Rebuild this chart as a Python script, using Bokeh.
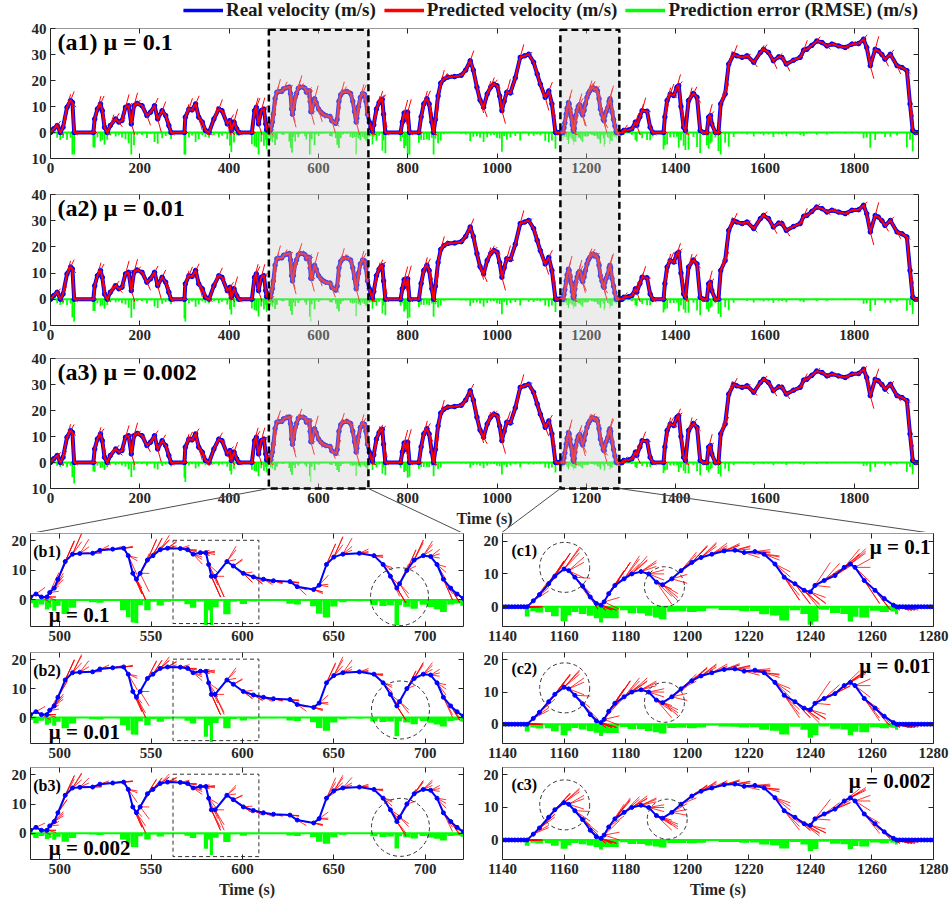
import numpy as np
from bokeh.plotting import figure
from bokeh.layouts import column, row
from bokeh.models import (Range1d, LinearAxis, FixedTicker, Legend, LegendItem,
                          Label, Span, CustomJSTickFormatter)
from bokeh.embed import file_html
from bokeh.resources import INLINE

# ---------------- data (time s, real velocity m/s) ----------------
t_start = [0, 7, 15, 22, 28, 37, 45, 49, 53, 96, 99, 105, 112, 116, 121, 127, 134, 146, 153, 160,
           168, 175, 181, 187, 194, 205, 216, 224, 233, 240, 250, 258, 265, 270, 300, 302, 310, 317,
           325, 332, 340, 347, 355, 366, 377, 384, 396, 402, 405, 411, 417, 422, 451, 457, 461, 466,
           472, 478, 482]
v_start = [0, 1.4, 2.7, 0, 2, 9.7, 12.3, 11.6, 0, 0, 5.2, 9, 11, 8.4, 2, 0, 2.7, 5.2, 4, 4.6,
           9.7, 10.3, 3.3, 10.3, 11.2, 10.3, 6.5, 7.8, 10.3, 5.2, 8.4, 6.5, 2.7, 0, 0, 5.9, 9, 8.7,
           11, 5.9, 4, 0.8, 0, 5.2, 9, 8.4, 3.3, 4.6, 0.8, 4, 1.4, 0, 0, 8.4, 9.7, 3.3,
           8.4, 9, 3.3]

t_zoom_b = [484, 487, 490, 493, 494.5, 497, 499, 503, 507, 511, 518, 522, 529, 535, 537.5, 540, 542,
            544, 548, 551, 555, 559, 566, 570, 573, 577, 580, 581.5, 583, 585, 591.5, 595, 600.5,
            606, 611.5, 617, 626, 630, 639, 642, 646, 650, 655, 664, 672, 677, 681, 684.5, 686,
            690, 694, 699, 703, 706.5, 710, 714, 717.5, 721]
v_zoom_b = [1, 2, 1, 1, 2.5, 4, 7, 13, 15.5, 15.7, 15.8, 16.8, 17.2, 17.5, 15, 9, 7,
            9, 13.5, 15, 17, 17.5, 17.4, 17, 15.5, 16, 16, 12, 8, 8, 13, 11.5, 9,
            7.8, 7, 6.5, 6.2, 4.5, 3.5, 5, 12, 14.5, 15.5, 15.8, 15, 12, 8, 4, 5.5,
            10, 13.5, 15, 14.7, 12, 7, 4, 2, 0.5]

t_middle = [724, 730, 736, 740, 743, 746, 750, 784, 788, 792, 796, 800, 804, 825, 830, 836, 843,
            848, 854, 858, 862, 868, 874, 881, 890, 905, 920, 930, 940, 947, 955, 962, 970, 978,
            986, 993, 1000, 1006, 1011, 1016, 1022, 1030, 1041, 1052, 1062, 1071, 1082, 1090,
            1097, 1108, 1116, 1123, 1131, 1136]
v_middle = [3, 9, 11.5, 12.3, 12.8, 7, 0, 0, 4, 7.5, 5, 7.8, 0, 0, 6, 11, 13,
            11, 4, 0, 5, 14, 19, 20.5, 21.3, 21.5, 22, 24, 27.6, 24, 17.4, 12.5, 9.7, 14.8,
            17.5, 18.6, 18, 14, 8.4, 12, 15.5, 15.2, 21, 28.9, 29.5, 30.1, 27, 22.5,
            18.6, 13.5, 16, 11, 0, 0]

t_zoom_c = [1140, 1141, 1142, 1143, 1144, 1145, 1146, 1147, 1148, 1150, 1152, 1155, 1157, 1160,
            1161.5, 1163.5, 1166, 1168.5, 1170.5, 1172, 1173, 1174.5, 1176.5, 1179.5, 1182, 1185,
            1187.5, 1190, 1192, 1195, 1198, 1201.5, 1204.5, 1208, 1212, 1215.5, 1218.5, 1222,
            1225, 1228.5, 1231.5, 1235, 1238, 1240, 1241.5, 1244.5, 1248, 1251, 1253, 1254.5,
            1257.5, 1261, 1264, 1267, 1268, 1269, 1270, 1271, 1272, 1273, 1274, 1275, 1276,
            1277, 1278, 1279, 1280]
v_zoom_c = [0, 0, 0, 0, 0, 0, 0, 0, 0, 1.8, 3.7, 7, 9.3, 11.5,
            11, 9, 6.3, 3, 1, 0.5, 1.5, 4, 6.5, 8.5, 10, 10.7,
            10, 7.5, 6.7, 8.5, 11, 13.5, 15, 16, 17, 17.2, 16.5, 16.8,
            16, 13, 9, 7, 5, 4.5, 6.5, 8, 9.5, 12, 13, 12,
            8, 5, 2.5, 0.5, 0, 0, 0, 0, 0, 0, 0, 0, 0,
            0, 0, 0, 0]

t_end = [1284, 1295, 1302, 1310, 1313, 1320, 1325, 1336, 1343, 1349, 1373, 1376, 1381, 1388, 1396,
         1403, 1407, 1412, 1418, 1422, 1429, 1440, 1448, 1455, 1463, 1470, 1474, 1478, 1481, 1489,
         1496, 1501, 1511, 1519, 1530, 1537, 1549, 1560, 1575, 1590, 1597, 1608, 1619, 1631, 1638,
         1648, 1664, 1679, 1687, 1694, 1705, 1716, 1728, 1739, 1750, 1765, 1780, 1795, 1810, 1821,
         1828, 1836, 1847, 1854, 1862, 1869, 1881, 1896, 1907, 1918, 1925, 1931, 1937, 1944]
v_end = [0.8, 1, 1.4, 4, 2.7, 6, 8.4, 8.2, 2, 0, 0, 6, 12.3, 14.8, 14.2,
         17.4, 18, 10, 2, 0.8, 12.3, 15, 13.5, 0.8, 0, 0, 5.9, 6.5, 3.3, 0,
         0, 11, 14.8, 26.3, 30, 29.5, 28.9, 29.5, 27, 30.8, 32, 30.8, 27.6, 29.1, 28.9,
         26.3, 27.8, 28.9, 31.7, 32, 33.5, 35.2, 34.6, 33.3, 34, 33.3, 32.7, 34, 34.2, 35.9,
         32.7, 25.7, 32, 31.4, 30, 28.2, 30.1, 25.7, 25, 23.8, 11, 0.8, 0, 0]

mu_labels = ["0.1", "0.01", "0.002"]
top_tags = ["(a1)", "(a2)", "(a3)"]
b_tags = ["(b1)", "(b2)", "(b3)"]
c_tags = ["(c1)", "(c2)", "(c3)"]
fan_gain = [1.35, 1.1, 0.9]      # spread of the predicted-velocity fans per mu
err_gain = [1.3, 1.0, 0.8]       # size of the RMSE bars per mu

full_range = (0, 1944)
top_y = (-10, 40)
zoom_b_range = (484, 721)
zoom_b_y = (-9, 22.5)
zoom_c_range = (1140, 1280)
zoom_c_y = (-6, 22.3)
highlight_b = (489, 712)
highlight_c = (1142, 1274)
top_xticks = [0, 200, 400, 600, 800, 1000, 1200, 1400, 1600, 1800]
top_yticks = [-10, 0, 10, 20, 30, 40]
b_xticks = [500, 550, 600, 650, 700]
c_xticks = [1140, 1160, 1180, 1200, 1220, 1240, 1260, 1280]
small_yticks = [0, 10, 20]
b_box = (562, 609, -8, 20.2)
b_circles = [(686, 1.1), (686.5, 2.6), (686.5, 2.0)]
c_circles = [[(1160.2, 12.0), (1192.6, 6.1)],
             [(1160.2, 11.3), (1192.6, 6.8)],
             [(1160.2, 10.8), (1193.5, 6.4)]]

# ---------------- style / layout (pixels) ----------------
FONT = "Liberation Serif"
BLUE, RED, GREEN = "#0000ff", "#ff0000", "#00ff00"
AXC = "#262626"
PAGE_W = 952
TOP_L, TOP_R = 50, 34
TOP_FW = PAGE_W - TOP_L - TOP_R
LEGEND_H = 20
top_rows = [(8, 130, 25), (11, 131, 22), (11, 130, 44)]  # (top border, frame, bottom border)
B_W, C_W = 480, 472
B_L, B_R = 30, 17
C_L, C_R = 20, 19
ZOOM_FW = B_W - B_L - B_R
bottom_rows = [(1, 93, 24), (2, 91, 22), (2, 92, 45)]

x_scale = TOP_FW / (full_range[1] - full_range[0])


def page_x_to_t(px):
    return full_range[0] + (px - TOP_L) / x_scale


def fan_lines(t, v, fg, h, clip, orders):
    t = np.asarray(t, float)
    v = np.asarray(v, float)
    xs, ys = [], []
    for i in range(len(t)):
        for m in orders:
            j = i - m
            if j < 0:
                continue
            s = (v[i] - v[j]) / (t[i] - t[j])
            r = float(np.clip(fg * s * h, -clip, clip))
            xs.append([t[i], t[i] + h])
            ys.append([v[i], max(v[i] + r, -1.0)])
    return xs, ys


def rmse_bars(t, v, eg, h=5.0):
    t = np.asarray(t, float)
    v = np.asarray(v, float)
    dt = np.diff(t)
    s = np.diff(v) / dt
    s_in = np.concatenate([[0.0], s])
    s_out = np.concatenate([s, [0.0]])
    err = eg * (0.5 * h * np.abs(s_out - s_in) + 1.0 * np.abs(s_in))
    err = np.minimum(err, 8.5)
    gl = np.concatenate([[dt[0]], dt])
    gr = np.concatenate([dt, [dt[-1]]])
    width = np.minimum(0.5 * (gl + gr), 4.0)
    return err, width


def style_axis(ax, ticks, show_labels, line_color=AXC):
    ax.ticker = FixedTicker(ticks=ticks)
    ax.major_tick_in = 5
    ax.major_tick_out = 0
    ax.minor_tick_line_color = None
    ax.axis_line_color = line_color
    ax.major_tick_line_color = AXC
    ax.major_label_text_font = FONT
    ax.major_label_text_font_style = "bold"
    ax.major_label_text_color = AXC
    if show_labels:
        ax.major_label_text_font_size = "15px"
        ax.major_label_standoff = 4
    else:
        ax.major_label_text_font_size = "0px"
        ax.major_label_standoff = 0
        ax.formatter = CustomJSTickFormatter(code="return '';")


def make_fig(xr, yr, width, left, right, rows):
    top, fh, bottom = rows
    p = figure(width=width, height=top + fh + bottom,
               x_range=Range1d(*xr), y_range=Range1d(*yr),
               x_axis_location=None, y_axis_location=None,
               toolbar_location=None, tools="", output_backend="svg",
               min_border_left=left, min_border_right=right,
               min_border_top=top, min_border_bottom=bottom)
    p.xgrid.visible = False
    p.ygrid.visible = False
    p.outline_line_color = None
    return p


def add_axes(p, xticks, yticks, xlabels=True, xtitle=None, abs_labels=False):
    below = LinearAxis()
    style_axis(below, xticks, xlabels)
    if xtitle:
        below.axis_label = xtitle
        below.axis_label_text_font = FONT
        below.axis_label_text_font_style = "bold"
        below.axis_label_text_font_size = "16px"
        below.axis_label_text_color = AXC
        below.axis_label_standoff = 4
    p.add_layout(below, "below")
    above = LinearAxis()
    style_axis(above, xticks, False, line_color="#9a9a9a")
    p.add_layout(above, "above")
    left = LinearAxis()
    style_axis(left, yticks, True)
    if abs_labels:
        left.formatter = CustomJSTickFormatter(code="return Math.abs(tick).toString();")
    p.add_layout(left, "left")
    right = LinearAxis()
    style_axis(right, yticks, False)
    p.add_layout(right, "right")


def draw_series(p, t, v, k, top_style):
    err, w = rmse_bars(t, v, err_gain[k])
    p.add_layout(Span(location=0, dimension="width", line_color=GREEN, line_width=2, level="underlay"))
    p.vbar(x=list(t), width=list(w), top=0, bottom=list(-err), fill_color=GREEN, line_color=None)
    if top_style:
        xs, ys = fan_lines(t, v, fan_gain[k], 8.0, 5.0, [1])
        p.line(list(t), list(v), line_color=BLUE, line_width=4)
        p.scatter(list(t), list(v), size=4.5, color=BLUE)
        p.line(list(t), list(v), line_color=RED, line_width=2)
        p.multi_line(xs, ys, line_color=RED, line_width=1)
    else:
        xs, ys = fan_lines(t, v, fan_gain[k], 5.0, 7.0, [1, 2, 3])
        p.multi_line(xs, ys, line_color=RED, line_width=0.8)
        p.line(list(t), list(v), line_color=BLUE, line_width=2)
        p.scatter(list(t), list(v), size=4, color=BLUE)


t_full = np.array(t_start + t_zoom_b + t_middle + t_zoom_c + t_end, float)
v_full = np.array(v_start + v_zoom_b + v_middle + v_zoom_c + v_end, float)

# ---------------- legend strip ----------------
lf = make_fig(full_range, top_y, PAGE_W, TOP_L, TOP_R, (0, LEGEND_H, 0))
err0, _ = rmse_bars(t_full, v_full, err_gain[0])
r1 = lf.line(list(t_full), list(v_full), line_color=BLUE, line_width=3.5, visible=False)
r2 = lf.line(list(t_full), list(v_full), line_color=RED, line_width=3.5, visible=False)
r3 = lf.line(list(t_full), list(-err0), line_color=GREEN, line_width=3.5, visible=False)
legend = Legend(items=[LegendItem(label="Real velocity (m/s)", renderers=[r1]),
                       LegendItem(label="Predicted velocity (m/s)", renderers=[r2]),
                       LegendItem(label="Prediction error (RMSE) (m/s)", renderers=[r3])],
                orientation="horizontal", location="center_right",
                label_text_font=FONT, label_text_font_style="bold",
                label_text_font_size="19px", label_text_color="#1a1a1a",
                glyph_width=40, glyph_height=16, label_standoff=3, spacing=8,
                padding=0, margin=0, border_line_color=None, background_fill_alpha=0,
                inactive_fill_alpha=0)
lf.add_layout(legend)
stack = [lf]

# ---------------- top panels ----------------
for k in range(3):
    p = make_fig(full_range, top_y, PAGE_W, TOP_L, TOP_R, top_rows[k])
    add_axes(p, top_xticks, top_yticks, xlabels=True,
             xtitle="Time (s)" if k == 2 else None, abs_labels=True)
    draw_series(p, t_full, v_full, k, True)
    p.add_layout(Label(x=15.7, y=34.7, text=f"{top_tags[k]} μ = {mu_labels[k]}",
                       text_font=FONT, text_font_style="bold", text_font_size="24px",
                       text_baseline="middle", text_align="left", text_color="black"))
    stack.append(p)

# ---------------- transparent overlay: zoom windows across a1..a3 and connectors ----------------
top_total = LEGEND_H + sum(sum(r) for r in top_rows)
ov_top = LEGEND_H + top_rows[0][0]                     # a1 frame top
ov_h = top_total - ov_top
a3_bottom = LEGEND_H + sum(top_rows[0]) + sum(top_rows[1]) + top_rows[2][0] + top_rows[2][1] - ov_top
ov = figure(width=PAGE_W, height=ov_h,
            x_range=Range1d(page_x_to_t(0), page_x_to_t(PAGE_W)), y_range=Range1d(ov_h, 0),
            x_axis_location=None, y_axis_location=None, toolbar_location=None, tools="",
            output_backend="svg", min_border_left=0, min_border_right=0,
            min_border_top=0, min_border_bottom=0)
ov.xgrid.visible = False
ov.ygrid.visible = False
ov.outline_line_color = None
ov.background_fill_alpha = 0
ov.border_fill_alpha = 0
ov.quad(left=[highlight_b[0], highlight_c[0]], right=[highlight_b[1], highlight_c[1]],
        top=[1.25, 1.25], bottom=[a3_bottom, a3_bottom],
        fill_color="#c8c8c8", fill_alpha=0.35,
        line_color="black", line_width=2.5, line_dash="7 4")
conn_targets = [(highlight_b[0], B_L), (highlight_b[1], B_L + ZOOM_FW),
                (highlight_c[0], B_W + C_L), (highlight_c[1], B_W + C_L + ZOOM_FW)]
ov.segment(x0=[c[0] for c in conn_targets], y0=[a3_bottom] * 4,
           x1=[page_x_to_t(c[1]) for c in conn_targets], y1=[ov_h + 1] * 4,
           line_color="#4d4d4d", line_width=1)
stack.append(row(ov, margin=(-ov_h, 0, 0, 0)))

# ---------------- zoom panels ----------------
tb = np.array(t_zoom_b, float)
vb = np.array(v_zoom_b, float)
tc = np.array(t_zoom_c, float)
vc = np.array(v_zoom_c, float)

for k in range(3):
    last = k == 2
    pb = make_fig(zoom_b_range, zoom_b_y, B_W, B_L, B_R, bottom_rows[k])
    add_axes(pb, b_xticks, small_yticks, xtitle="Time (s)" if last else None)
    draw_series(pb, tb, vb, k, False)
    pb.quad(left=[b_box[0]], right=[b_box[1]], bottom=[b_box[2]], top=[b_box[3]],
            fill_alpha=0, line_color="#333333", line_width=1, line_dash="4 3")
    pb.scatter(x=[b_circles[k][0]], y=[b_circles[k][1]], size=58, marker="circle",
               fill_alpha=0, line_color="#333333", line_width=1, line_dash="4 3")
    pb.add_layout(Label(x=485.5, y=16.4, text=b_tags[k], text_font=FONT, text_font_style="bold",
                        text_font_size="16px", text_baseline="middle", text_color="black"))
    pb.add_layout(Label(x=494, y=-5, text=f"μ = {mu_labels[k]}", text_font=FONT,
                        text_font_style="bold", text_font_size="21px", text_baseline="middle",
                        text_color="black"))

    pc = make_fig(zoom_c_range, zoom_c_y, C_W, C_L, C_R, bottom_rows[k])
    add_axes(pc, c_xticks, small_yticks, xtitle="Time (s)" if last else None)
    draw_series(pc, tc, vc, k, False)
    for (cx, cy), sz in zip(c_circles[k], [50, 40]):
        pc.scatter(x=[cx], y=[cy], size=sz, marker="circle", fill_alpha=0,
                   line_color="#333333", line_width=1, line_dash="4 3")
    pc.add_layout(Label(x=1142.9, y=17.2, text=c_tags[k], text_font=FONT, text_font_style="bold",
                        text_font_size="16px", text_baseline="middle", text_color="black"))
    pc.add_layout(Label(x=1279, y=18.2, text=f"μ = {mu_labels[k]}", text_font=FONT,
                        text_font_style="bold", text_font_size="21px", text_baseline="middle",
                        text_align="right", text_color="black"))
    stack.append(row(pb, pc))

layout = column(*stack)
open("out.html", "w").write(file_html(layout, INLINE))
